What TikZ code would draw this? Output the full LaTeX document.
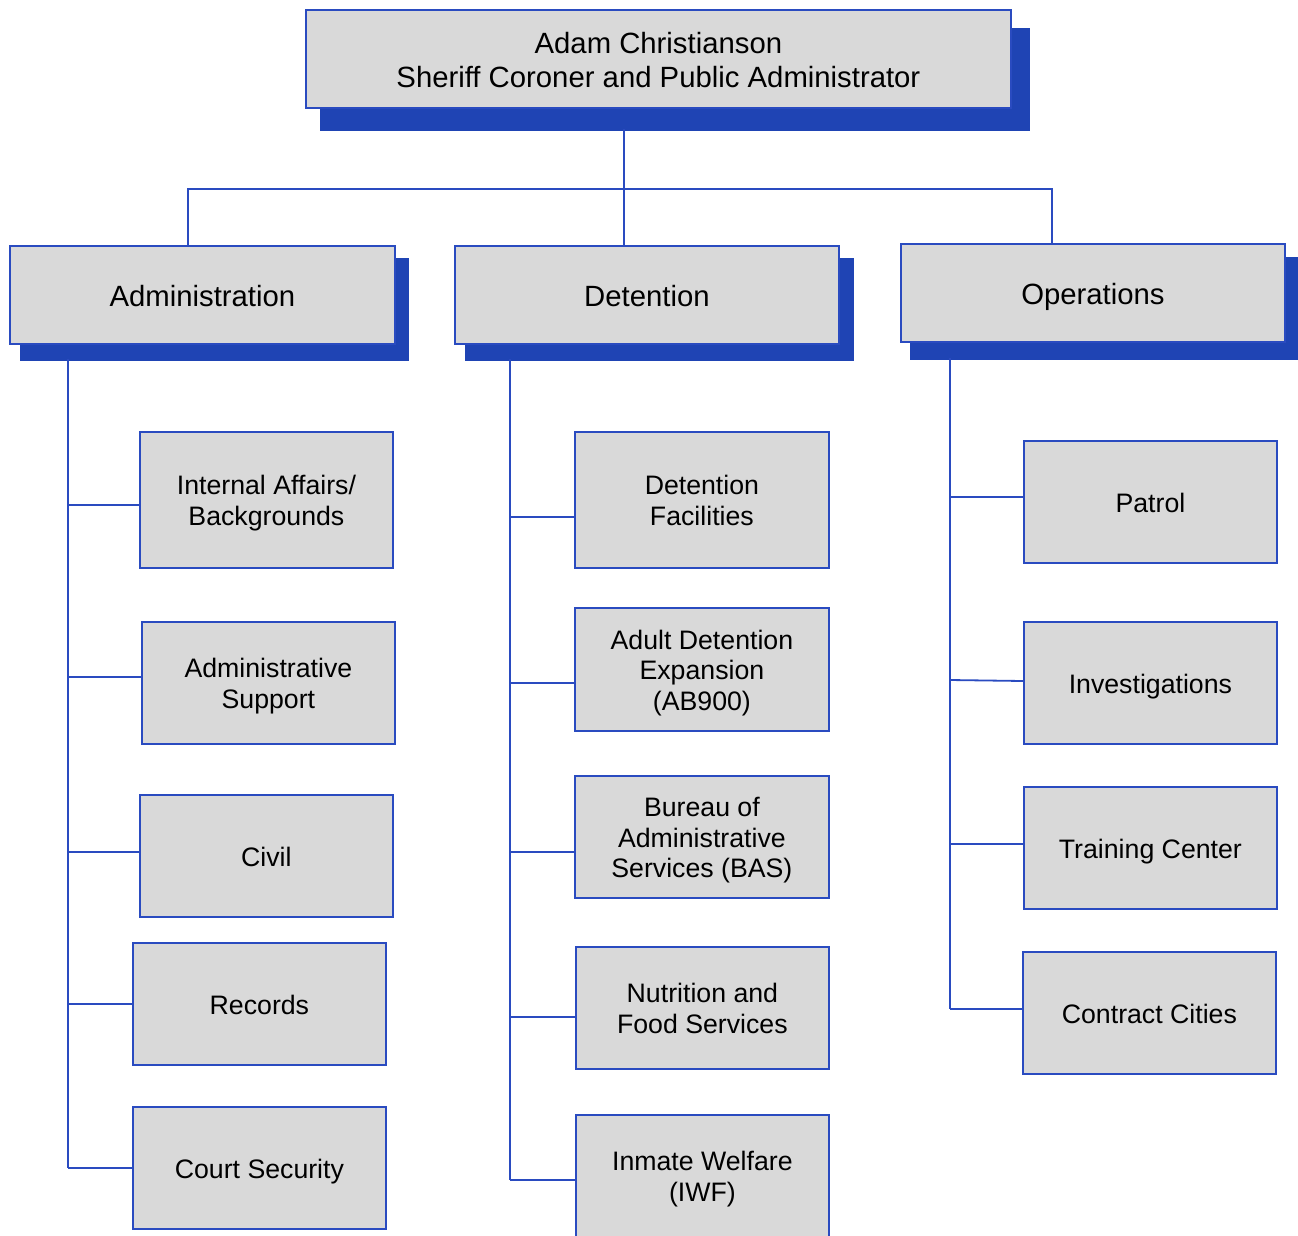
\documentclass[tikz,border=0pt]{standalone}
\usepackage{fontspec}
\setmainfont{Liberation Sans}
\usetikzlibrary{calc,backgrounds}
\definecolor{boxfill}{HTML}{D9D9D9}
\definecolor{shblue}{HTML}{1F44B4}
\definecolor{lnblue}{HTML}{2A4BC0}
\newcommand\myT{\rule{0pt}{0.98em}}
\newcommand\myB{\rule[-0.21em]{0pt}{0pt}}
\begin{document}
\begin{tikzpicture}[x=1pt,y=-1pt,
  box/.style={draw=lnblue, line width=1.8pt, fill=boxfill, inner sep=0pt, align=center, text=black, anchor=north west, font=\fontsize{26.7}{30.4}\selectfont},
  bigbox/.style={box, font=\fontsize{29.3}{34}\selectfont, minimum height=98},
  subbox/.style={box, minimum width=253, minimum height=122},
  conn/.style={draw=lnblue, line width=1.8pt},
  shadowfill/.style={fill=shblue}]
\useasboundingbox (0,0) rectangle (1298,1235);
\clip (0,0) rectangle (1298,1235);

% top
\node[bigbox, minimum width=705] (top) at (305,9) {\myT Adam Christianson\\Sheriff Coroner and Public Administrator\myB};
% level 2
\node[bigbox, minimum width=385] (adm) at (9,245) {\myT Administration\myB};
\node[bigbox, minimum width=384] (det) at (454,245) {\myT Detention\myB};
\node[bigbox, minimum width=384] (ops) at (900,243) {\myT Operations\myB};

% administration children
\node[subbox, minimum height=136] (ia) at (139,431) {\myT Internal Affairs/\\Backgrounds\myB};
\node[subbox] (as) at (141,621) {\myT Administrative\\Support\myB};
\node[subbox] (civ) at (139,794) {\myT Civil\myB};
\node[subbox] (rec) at (132,942) {\myT Records\myB};
\node[subbox] (cs) at (132,1106) {\myT Court Security\myB};

% detention children
\node[subbox, minimum width=254, minimum height=136] (df) at (574,431) {\myT Detention\\Facilities\myB};
\node[subbox, minimum width=254, minimum height=123] (ade) at (574,607) {\myT Adult Detention\\Expansion\\(AB900)\myB};
\node[subbox, minimum width=254] (bas) at (574,775) {\myT Bureau of\\Administrative\\Services (BAS)\myB};
\node[subbox] (nfs) at (575,946) {\myT Nutrition and\\Food Services\myB};
\node[subbox] (iwf) at (575,1114) {\myT Inmate Welfare\\(IWF)\myB};

% operations children
\node[subbox] (pat) at (1023,440) {\myT Patrol\myB};
\node[subbox] (inv) at (1023,621) {\myT Investigations\myB};
\node[subbox] (tc) at (1023,786) {\myT Training Center\myB};
\node[subbox] (cc) at (1022,951) {\myT Contract Cities\myB};

% shadows
\begin{scope}[on background layer]
\fill[shadowfill] ($(top.north west)+(15,19)$) rectangle ($(top.south east)+(18,22)$);
\fill[shadowfill] ($(adm.north west)+(11,13)$) rectangle ($(adm.south east)+(13,16)$);
\fill[shadowfill] ($(det.north west)+(11,13)$) rectangle ($(det.south east)+(14,16)$);
\fill[shadowfill] ($(ops.north west)+(10,14)$) rectangle ($(ops.south east)+(14,17)$);
\end{scope}

% top connectors
\coordinate (topS) at (624,129);
\coordinate (bus) at (624,189);
\draw[conn] (topS) -- (det.north -| topS);
\draw[conn] (adm.north -| 188,0) |- (bus) -| (ops.north -| 1052,0);

% administration trunk
\coordinate (aT) at (68,359);
\coordinate (aB) at (68,1168);
\draw[conn] (aT) -- (aB);
\draw[conn] (68,505) -- (ia.west |- 0,505);
\draw[conn] (68,677) -- (as.west |- 0,677);
\draw[conn] (68,852) -- (civ.west |- 0,852);
\draw[conn] (68,1004) -- (rec.west |- 0,1004);
\draw[conn] (aB) -- (cs.west |- aB);

% detention trunk
\coordinate (dT) at (510,359);
\coordinate (dB) at (510,1180);
\draw[conn] (dT) -- (dB);
\draw[conn] (510,517) -- (df.west |- 0,517);
\draw[conn] (510,683) -- (ade.west |- 0,683);
\draw[conn] (510,852) -- (bas.west |- 0,852);
\draw[conn] (510,1017) -- (nfs.west |- 0,1017);
\draw[conn] (dB) -- (iwf.west |- dB);

% operations trunk
\coordinate (oT) at (950,358);
\coordinate (oB) at (950,1009);
\draw[conn] (oT) -- (oB);
\draw[conn] (950,497) -- (pat.west |- 0,497);
\draw[conn] (950,680) -- (inv.west |- 0,681);
\draw[conn] (950,844) -- (tc.west |- 0,844);
\draw[conn] (oB) -- (cc.west |- oB);
\end{tikzpicture}
\end{document}
